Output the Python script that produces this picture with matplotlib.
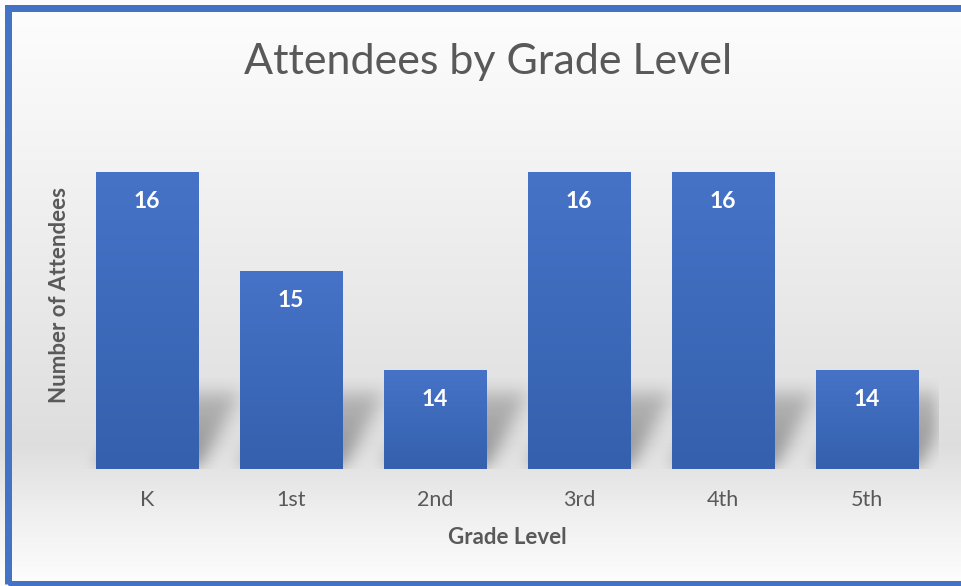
import numpy as np
import matplotlib
matplotlib.use("Agg")
import matplotlib.pyplot as plt
from matplotlib.patches import Rectangle
from matplotlib.colors import LinearSegmentedColormap

# ---- data ----
grades = ["K", "1st", "2nd", "3rd", "4th", "5th"]
attendees = [16, 15, 14, 16, 16, 14]
title = "Attendees by Grade Level"
xlabel = "Grade Level"
ylabel = "Number of Attendees"

W, H = 961, 586
fig = plt.figure(figsize=(W / 100, H / 100), dpi=100)
FONT = ["Lato", "DejaVu Sans"]
plt.rcParams["font.family"] = FONT

# ---- background gradient ----
bg = fig.add_axes([0, 0, 1, 1], zorder=-10)
bg.set_axis_off()
ys = np.linspace(0, 1, 400)  # 0 = top
stops = [(0.0, 0.995), (0.2, 0.965), (0.5, 0.915), (0.76, 0.87), (0.88, 0.94), (1.0, 0.995)]
vals = np.interp(ys, [s[0] for s in stops], [s[1] for s in stops])
col = np.repeat(vals[:, None], 2, axis=1)
img = np.dstack([col, col, col])
bg.imshow(img, extent=[0, 1, 0, 1], aspect="auto", origin="upper", interpolation="bilinear")
bg.set_xlim(0, 1)
bg.set_ylim(0, 1)

# ---- main axes ----
left_px, right_px, top_px, bot_px = 75, 939, 142, 469
ax = fig.add_axes([left_px / W, 1 - bot_px / H, (right_px - left_px) / W, (bot_px - top_px) / H])
ax.set_facecolor("none")
ymin = 13
ymax = ymin + (bot_px - top_px) / 99.0
ax.set_xlim(-0.5, len(grades) - 0.5)
ax.set_ylim(ymin, ymax)

x = np.arange(len(grades))
bw = 0.71

# ---- shadows (blurred parallelograms) ----
nx, ny = right_px - left_px, bot_px - top_px
gx = np.linspace(-0.5, len(grades) - 0.5, nx)
gy = np.linspace(ymin, ymax, ny)
GX, GY = np.meshgrid(gx, gy)
mask = np.zeros_like(GX)
sh_h, sh_dx = 0.78, 0.30
for xi in x:
    t = (GY - ymin) / sh_h
    inside = (t >= 0) & (t <= 1)
    x0 = xi - bw / 2 + sh_dx * t
    x1 = xi + bw / 2 + sh_dx * t
    inside &= (GX >= x0) & (GX <= x1)
    mask = np.maximum(mask, np.where(inside, 1 - 0.5 * t, 0))

def box_blur(a, r):
    k = np.ones(2 * r + 1) / (2 * r + 1)
    a = np.apply_along_axis(lambda m: np.convolve(m, k, mode="same"), 0, a)
    a = np.apply_along_axis(lambda m: np.convolve(m, k, mode="same"), 1, a)
    return a

mask = box_blur(box_blur(mask, 9), 9)
shadow = np.zeros((ny, nx, 4))
shadow[..., 3] = mask * 0.36
ax.imshow(shadow, extent=[-0.5, len(grades) - 0.5, ymin, ymax], origin="lower",
          aspect="auto", zorder=1, interpolation="bilinear")

# ---- bars with vertical gradient ----
bars = ax.bar(x, attendees, width=bw, bottom=0, color="#3d68b9", zorder=2, linewidth=0)
cmap = LinearSegmentedColormap.from_list("bar", ["#3460ad", "#4673c7"])
grad = np.linspace(0, 1, 256)[:, None]
for b, v in zip(bars, attendees):
    im = ax.imshow(grad, extent=[b.get_x(), b.get_x() + b.get_width(), ymin, v],
                   origin="lower", aspect="auto", cmap=cmap, zorder=3)
    im.set_clip_path(b)
    ax.text(b.get_x() + b.get_width() / 2, v - 0.30, str(v), ha="center", va="center",
            color="white", fontsize=16.5, fontweight="bold", zorder=4)
ax.set_xlim(-0.5, len(grades) - 0.5)
ax.set_ylim(ymin, ymax)

# ---- axes styling ----
for s in ax.spines.values():
    s.set_visible(False)
ax.set_yticks([])
ax.set_xticks(x)
ax.set_xticklabels(grades, fontsize=15.5, color="#595959")
ax.tick_params(axis="x", length=0, pad=15)

# ---- texts ----
fig.text(488 / W, 1 - 62 / H, title, ha="center", va="center", fontsize=31,
         color="#595959")
fig.text(507 / W, 1 - 538 / H, xlabel, ha="center", va="center", fontsize=16,
         color="#595959", fontweight="bold")
fig.text(60 / W, 1 - 295 / H, ylabel, ha="center", va="center", fontsize=16,
         color="#595959", fontweight="bold", rotation=90)

# ---- border ----
fig.patches.append(Rectangle((7.5 / W, 1 - 583.5 / H), (980 - 7.5) / W, (583.5 - 8) / H,
                             transform=fig.transFigure, fill=False, edgecolor="#4472c4",
                             linewidth=7 * 0.72, zorder=20))

fig.savefig("out.png", dpi=100)
